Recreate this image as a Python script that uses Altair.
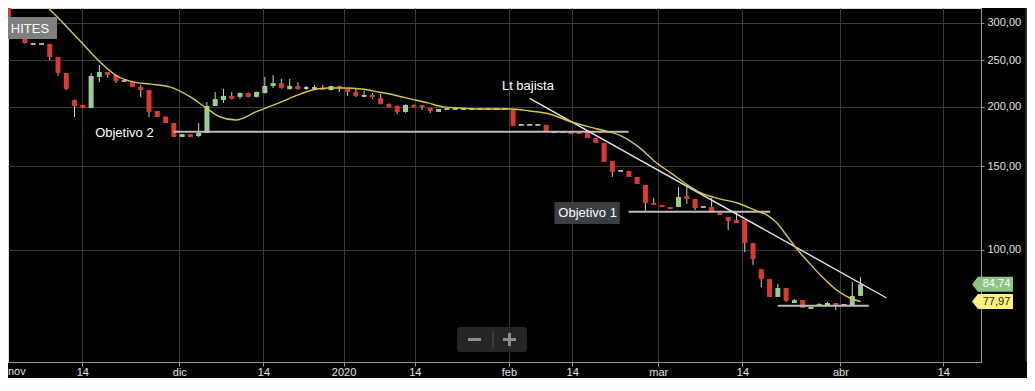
import json
import altair as alt
import pandas as pd

# ---------------- data ----------------
# candle index = trading-day position on the axis
opens = [330, 292, 278.5, 270.5, 270.5, 270.5, 254, 235.2, 206.4, 201.5,
         198.6, 230.7, 236.3, 232.9, 226.2, 225, 219.8, 216.6, 195.7, 190.5,
         184.7, 172.6, 175.1, 173.4, 176, 200.5, 206.4, 210.5, 209.5, 213.5,
         209.5, 213.5, 220.8, 223.9, 217.6, 220.8, 218.7, 218.7, 218.7, 216.6,
         220.8, 217.6, 214.6, 209.5, 211.5, 208.5, 202.5, 200.5, 194.8, 201.5,
         201.5, 198.6, 194.8, 197.6, 197.6, 197.6, 197.6, 197.6, 197.6, 197.6,
         197.6, 196.7, 183, 183, 183, 183, 176.8, 176.8, 176.8, 176.8,
         176.8, 171.8, 167.7, 153.7, 146.5, 146.5, 142.3, 136.9, 125.5, 124.3,
         123.1, 123.1, 129.8, 127.9, 123.1, 123.1, 119.6, 117.3, 115.6, 115.6,
         103.4, 91.2, 86.9, 79.7, 83.2, 77.4, 78.5, 75.2, 76.3, 76.3,
         77.4, 76.7, 76.3, 80.1]
highs = [336, 294, 279, 270.5, 270.5, 271, 254, 235.2, 207, 201.5,
         235, 244.4, 236.3, 232.9, 226.2, 225, 222, 216.6, 195.7, 190.5,
         184.7, 175.1, 175.1, 184.7, 204.4, 214.5, 217.6, 214.6, 214, 214,
         215, 230.7, 232.9, 228.4, 228.4, 225, 220.8, 221.8, 221.8, 221,
         221, 218, 218.7, 215.6, 213.5, 212.5, 203, 201, 202, 202,
         201.5, 198.6, 197.6, 197.6, 197.6, 197.6, 197.6, 197.6, 197.6, 197.6,
         197.6, 197.6, 183, 183, 183, 183, 176.8, 176.8, 176.8, 176.8,
         176.8, 171.8, 167.7, 153.7, 146.5, 146.5, 142.3, 136.9, 128.6, 124.3,
         123.1, 135.6, 135.6, 127.9, 123.1, 128.6, 119.6, 117.3, 120.7, 115.6,
         103.4, 91.2, 86.9, 84.8, 83.2, 78.9, 78.5, 75.9, 77.4, 77.8,
         77.4, 76.7, 85.7, 87.8]
lows = [292, 279, 271, 270.5, 270.5, 250, 232, 216.6, 190.1, 198.6,
        198.6, 225, 230, 224, 226.2, 219.8, 209.4, 190.1, 190.1, 184.7,
        172.6, 172.6, 172.6, 172.6, 176, 200.5, 203.5, 207, 207.5, 209,
        209, 213, 218.7, 218, 217, 217, 216.6, 218, 216.6, 216,
        214.6, 210.5, 209.5, 209, 207.5, 202, 199, 192.9, 194, 199,
        196.7, 193.9, 194.8, 197.6, 197.6, 197.6, 197.6, 197.6, 197.6, 197.6,
        197.6, 182.1, 183, 183, 183, 176.8, 176.8, 176.8, 175.1, 175.1,
        171.8, 167.7, 153, 142.3, 146.5, 142.3, 137.5, 120.2, 124.3, 123.1,
        121.9, 123.1, 124.9, 121.3, 123.1, 120.7, 118.4, 110.1, 113.9, 99,
        93, 83.6, 79.7, 79.7, 77.8, 77.4, 75.6, 75.2, 76.3, 76.3,
        74.8, 76.7, 76.3, 80.1]
closes = [294, 281, 271.8, 270.5, 270.5, 254, 235.2, 217.7, 200.5, 198.6,
          231.8, 236.3, 232.9, 226.2, 226.2, 219.8, 216.6, 194.8, 190.1, 184.7,
          172.6, 175.1, 172.6, 176, 200.5, 207.4, 210.5, 207.5, 213.5, 209.5,
          214.6, 220.8, 223.9, 218.7, 220.8, 217.6, 218.7, 218.7, 216.6, 220.8,
          218.7, 214.6, 210.5, 211.5, 209.5, 202.5, 199.6, 194.8, 201.5, 199.6,
          199.6, 195.7, 197.6, 197.6, 197.6, 197.6, 197.6, 197.6, 197.6, 197.6,
          197.6, 182.1, 183, 183, 183, 176.8, 176.8, 176.8, 175.1, 175.1,
          171.8, 167.7, 153, 145.8, 146.5, 142.3, 137.5, 125.5, 124.3, 123.1,
          121.9, 129.2, 127.9, 122.5, 123.1, 120.7, 118.4, 115, 113.9, 103.4,
          95.7, 86.9, 79.7, 83.2, 78.2, 78.5, 75.6, 75.9, 77, 77.4,
          76.7, 76.7, 80.1, 84.74]

# moving average (yellow curve), read at these axis positions
ma_pos = [4.1, 6.5, 8.8, 11.2, 13.1, 15.2, 17.2, 19.6, 22.0, 23.9, 25.6, 27.5,
          29.9, 32.7, 34.7, 36.7, 38.7, 40.6, 42.7, 44.7, 46.6, 48.6, 50.7, 52.6,
          54.6, 56.7, 58.6, 60.6, 63.0, 65.4, 68.1, 70.2, 72.2, 74.1, 76.2, 78.2,
          80.1, 82.1, 83.7, 86.1, 88.1, 90.5, 91.7, 92.9, 94.1, 95.3, 96.9, 98.5,
          100.1, 101.7, 103.0]
ma_val = [331.4, 300.9, 273.1, 246.8, 231.8, 225.0, 222.9, 219.7, 209.5, 198.6, 190.1, 187.4,
          194.8, 203.5, 210.5, 216.6, 218.7, 218.7, 217.6, 214.6, 211.5, 207.5, 203.5, 199.6,
          198.6, 197.6, 197.6, 197.6, 195.7, 192.9, 185.6, 181.2, 177.7, 173.4, 164.4, 153.0,
          145.0, 136.9, 131.7, 127.9, 125.5, 120.7, 118.4, 113.9, 107.0, 100.5, 93.5, 87.3,
          82.4, 79.3, 77.97]

# horizontal target levels
lvl_from = [19.94, 74.96, 93.0]
lvl_to = [74.96, 92.07, 104.0]
lvl_val = [177.1, 120.3, 76.4]

# bearish trend line ("Lt bajista")
trend_pos = [63.0, 106.1]
trend_val = [208.1, 79.4]

# annotations
ann_text = ["Objetivo 2", "Lt bajista", "Objetivo 1"]
ann_pos = [10.49, 59.65, 66.47]
ann_val = [177.1, 221.4, 120.3]
box_pos = [66.0, 73.9]
box_val = [113.4, 126.1]

# axis ticks
x_ticks = [8.94, 20.66, 30.83, 40.51, 49.13, 60.49, 68.15, 78.55, 88.72, 100.56, 113.0]
x_labels = ["14", "dic", "14", "2020", "14", "feb", "14", "mar", "14", "abr", "14"]
y_ticks = [100, 150, 200, 250, 300]

# last-value tags
tag_val = [84.74, 77.97]
tag_fill = ["#8cc488", "#fff27a"]
tag_text = ["#ffffff", "#222222"]

# ---------------- chart ----------------
W, H = 973, 354
FONT = "Liberation Sans"
RED, GREEN = "#dc3a2c", "#98cf8f"

candles = pd.DataFrame({"i": list(range(len(opens))), "o": opens, "h": highs,
                        "l": lows, "c": closes})

xs = alt.Scale(domain=[0.562, 116.95], nice=False, zero=False)
ys = alt.Scale(type="log", domain=[58.21, 321.9], nice=False, zero=False)

x_axis = alt.Axis(values=x_ticks,
                  labelExpr=f"{json.dumps(x_labels)}[indexof({json.dumps(x_ticks)}, datum.value)]",
                  grid=True, gridColor="#3b3b3b", gridWidth=1,
                  domainColor="#9a9a9a", tickColor="#9a9a9a", tickSize=4,
                  labelColor="#e2e2e2", labelFontSize=11, labelPadding=0,
                  labelFont=FONT, labelFlush=False, labelOverlap=False, title=None)
y_axis = alt.Axis(orient="right", values=y_ticks,
                  labelExpr="replace(format(datum.value, '.2f'), '.', ',')",
                  grid=True, gridColor="#3b3b3b", gridWidth=1,
                  domainColor="#9a9a9a", tickColor="#9a9a9a", tickSize=3,
                  labelColor="#e2e2e2", labelFontSize=11, labelPadding=3,
                  labelFont=FONT, title=None)


def X(f):
    return alt.X(f, type="quantitative", scale=xs, axis=x_axis)


def Y(f):
    return alt.Y(f, type="quantitative", scale=ys, axis=y_axis)


base = alt.Chart(candles).transform_calculate(
    dir="datum.c > datum.o ? 'up' : (datum.c < datum.o ? 'down' : 'flat')",
    lo="min(datum.o, datum.c)", hi="max(datum.o, datum.c)",
    xl="datum.i - 0.3", xr="datum.i + 0.3")

wicks = base.transform_filter("datum.h > datum.l").mark_rule(
    color="#d0d0d0", strokeWidth=1).encode(x=X("i"), y=Y("l"), y2="h")

bodies = base.transform_filter("datum.dir != 'flat'").mark_bar(size=5).encode(
    x=X("i"), y=Y("lo"), y2="hi",
    color=alt.Color("dir:N", scale=alt.Scale(domain=["up", "down"], range=[GREEN, RED]),
                    legend=None))

flats = base.transform_filter("datum.dir == 'flat'").mark_rule(
    color="#e6e6e6", strokeWidth=1.5).encode(x=X("xl"), x2="xr", y=Y("o"))

ma_df = pd.DataFrame({"p": ma_pos, "v": ma_val})
ma = alt.Chart(ma_df).mark_line(color="#d9c845", strokeWidth=1.4,
                                interpolate="monotone").encode(x=X("p"), y=Y("v"))

lvl_df = pd.DataFrame({"a": lvl_from, "b": lvl_to, "v": lvl_val})
levels = alt.Chart(lvl_df).mark_rule(color="#bdbdbd", strokeWidth=2).encode(
    x=X("a"), x2="b", y=Y("v"))

trend_df = pd.DataFrame({"p": trend_pos, "v": trend_val})
trend = alt.Chart(trend_df).mark_line(color="#e4e4e4", strokeWidth=1.4).encode(
    x=X("p"), y=Y("v"))

box_df = pd.DataFrame({"a": [box_pos[0]], "b": [box_pos[1]],
                       "v1": [box_val[0]], "v2": [box_val[1]]})
box = alt.Chart(box_df).mark_rect(color="#3a3f44").encode(
    x=X("a"), x2="b", y=Y("v1"), y2="v2")

ann_df = pd.DataFrame({"t": ann_text, "p": ann_pos, "v": ann_val})
ann = alt.Chart(ann_df).mark_text(align="left", baseline="middle", dy=1,
                                  color="#ffffff", fontSize=13, font=FONT).encode(
    x=X("p"), y=Y("v"), text="t:N")

tag_df = pd.DataFrame({"v": tag_val, "fill": tag_fill, "tc": tag_text})
tag_shape = "M -1 0 L -0.71 -0.37 L 1 -0.37 L 1 0.37 L -0.71 0.37 Z"
tags = alt.Chart(tag_df).mark_point(shape=tag_shape, size=1681, filled=True,
                                    opacity=1, strokeWidth=0).encode(
    x=alt.value(984.5), y=Y("v"), color=alt.Color("fill:N", scale=None))
tag_lbl = alt.Chart(tag_df).transform_calculate(
    lab="replace(format(datum.v, '.2f'), '.', ',')").mark_text(
    align="center", baseline="middle", fontSize=11, font=FONT).encode(
    x=alt.value(988.5), y=Y("v"), text="lab:N", color=alt.Color("tc:N", scale=None))

one = pd.DataFrame({"k": [0]})
hites_box = alt.Chart(one).mark_rect(color="#7f7f7f").encode(
    x=alt.value(-5), x2=alt.value(49), y=alt.value(9), y2=alt.value(31))
hites_txt = alt.Chart(one).mark_text(text="HITES", color="#ffffff", fontSize=13,
                                     font=FONT, align="center", baseline="middle").encode(
    x=alt.value(22), y=alt.value(20.5))
nov_txt = alt.Chart(one).mark_text(text="nov", color="#e2e2e2", fontSize=11, font=FONT,
                                   align="left", baseline="top").encode(
    x=alt.value(0), y=alt.value(H + 4))

zoom_box = alt.Chart(one).mark_rect(color="#2a2a2a", opacity=0.88, cornerRadius=3).encode(
    x=alt.value(449), x2=alt.value(519), y=alt.value(319), y2=alt.value(344))
zoom_minus = alt.Chart(one).mark_rect(color="#8c8c8c").encode(
    x=alt.value(460), x2=alt.value(473), y=alt.value(330), y2=alt.value(333))
zoom_plus_h = alt.Chart(one).mark_rect(color="#8c8c8c").encode(
    x=alt.value(495), x2=alt.value(508), y=alt.value(330), y2=alt.value(333))
zoom_plus_v = alt.Chart(one).mark_rect(color="#8c8c8c").encode(
    x=alt.value(500), x2=alt.value(503), y=alt.value(325), y2=alt.value(338))
zoom_div = alt.Chart(one).mark_rule(color="#555555", strokeWidth=1).encode(
    x=alt.value(485), y=alt.value(323), y2=alt.value(340))

side_line = alt.Chart(one).mark_rule(color="#555555", strokeWidth=1).encode(
    x=alt.value(1018), y=alt.value(0), y2=alt.value(H))

chart = alt.layer(
    wicks, bodies, flats, levels, trend, ma, box, ann, tags, tag_lbl,
    hites_box, hites_txt, nov_txt, zoom_box, zoom_minus, zoom_plus_h, zoom_plus_v,
    zoom_div, side_line
).properties(
    width=W, height=H, background="#000000",
    padding={"left": 0, "top": 0, "right": 46, "bottom": 16},
    autosize=alt.AutoSizeParams(type="none")
).configure_view(strokeWidth=0).configure(font=FONT)

chart.save("out.html", embed_options={"renderer": "svg", "actions": False})
